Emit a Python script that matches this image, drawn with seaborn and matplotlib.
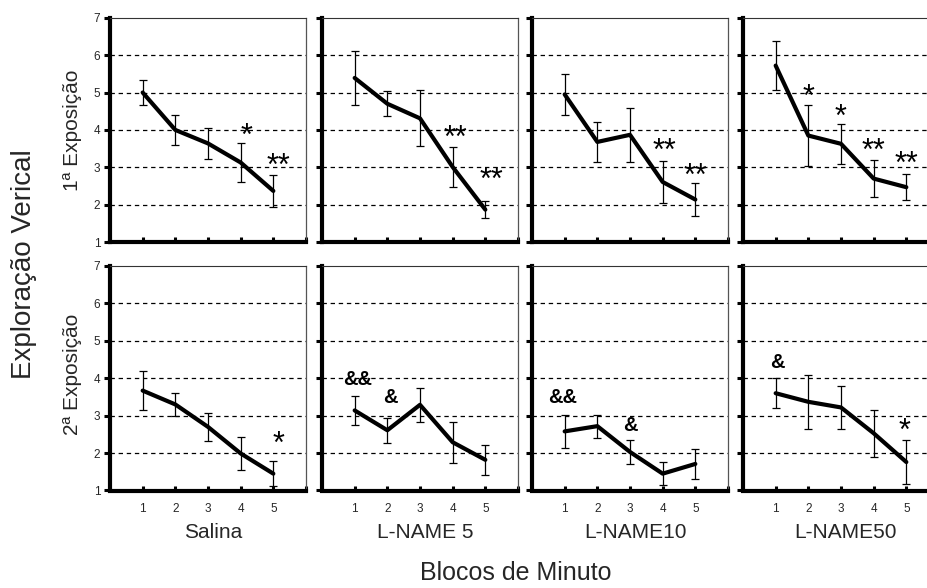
import numpy as np
import pandas as pd
import matplotlib
matplotlib.use("Agg")
import matplotlib.pyplot as plt
import seaborn as sns

# Mean vertical exploration per one-minute block, with SEM
blocks = [1, 2, 3, 4, 5]
groups = ["Salina", "L-NAME 5", "L-NAME10", "L-NAME50"]

exp1_salina = [5.00, 4.00, 3.64, 3.13, 2.37]
exp1_salina_err = [0.33, 0.40, 0.42, 0.51, 0.42]
exp1_lname5 = [5.39, 4.70, 4.31, 3.01, 1.87]
exp1_lname5_err = [0.72, 0.33, 0.75, 0.53, 0.22]
exp1_lname10 = [4.95, 3.68, 3.87, 2.61, 2.14]
exp1_lname10_err = [0.55, 0.54, 0.72, 0.55, 0.45]
exp1_lname50 = [5.72, 3.85, 3.63, 2.70, 2.47]
exp1_lname50_err = [0.65, 0.81, 0.53, 0.50, 0.35]

exp2_salina = [3.67, 3.30, 2.70, 1.99, 1.45]
exp2_salina_err = [0.52, 0.31, 0.37, 0.45, 0.33]
exp2_lname5 = [3.14, 2.61, 3.29, 2.29, 1.82]
exp2_lname5_err = [0.39, 0.33, 0.45, 0.55, 0.40]
exp2_lname10 = [2.58, 2.72, 2.03, 1.45, 1.71]
exp2_lname10_err = [0.44, 0.31, 0.32, 0.31, 0.40]
exp2_lname50 = [3.60, 3.37, 3.22, 2.53, 1.76]
exp2_lname50_err = [0.40, 0.73, 0.58, 0.63, 0.59]

# Significance marks: (block position, height of symbol centre, symbol)
marks_exp1 = [
    [(4.18, 4.07, "*"), (5.15, 3.27, "**")],
    [(4.1, 4.01, "**"), (5.18, 2.90, "**")],
    [(4.05, 3.66, "**"), (5.0, 3.00, "**")],
    [(2.0, 5.12, "*"), (3.0, 4.59, "*"), (4.0, 3.68, "**"), (5.0, 3.32, "**")],
]
marks_exp2 = [
    [(5.15, 2.47, "*")],
    [(1.1, 4.00, "&&"), (2.1, 3.52, "&")],
    [(0.95, 3.52, "&&"), (3.0, 2.78, "&")],
    [(1.05, 4.48, "&"), (4.95, 2.83, "*")],
]

rows = [
    ("1ª Exposição",
     [exp1_salina, exp1_lname5, exp1_lname10, exp1_lname50],
     [exp1_salina_err, exp1_lname5_err, exp1_lname10_err, exp1_lname50_err],
     marks_exp1),
    ("2ª Exposição",
     [exp2_salina, exp2_lname5, exp2_lname10, exp2_lname50],
     [exp2_salina_err, exp2_lname5_err, exp2_lname10_err, exp2_lname50_err],
     marks_exp2),
]

sns.set_theme(style="white")
plt.rcParams["font.family"] = ["Liberation Sans", "DejaVu Sans"]

W, H = 928, 588
fig = plt.figure(figsize=(W / 100, H / 100), dpi=100)

lefts = [110, 322, 532, 743]
panel_w = 196
row_tops = [17.7, 266]
panel_h = 224.5
row_label_y = [130, 374]


def px_axes(left, top, w, h):
    return fig.add_axes([left / W, 1 - (top + h) / H, w / W, h / H])


STAR_PT = 22
AMP_PT = 14.5

for r, (row_label, means, errs, marks) in enumerate(rows):
    for c, grp in enumerate(groups):
        ax = px_axes(lefts[c], row_tops[r], panel_w, panel_h)
        df = pd.DataFrame({"bloco": blocks, "media": means[c], "epm": errs[c]})

        # dashed reference lines
        for yv in [2, 3, 4, 5, 6]:
            ax.axhline(yv, color="black", lw=0.9, ls=(0, (3.5, 3.0)), zorder=1)

        ax.errorbar(df["bloco"], df["media"], yerr=df["epm"], fmt="none",
                    ecolor="black", elinewidth=0.9, capsize=3.2, capthick=0.9,
                    zorder=2)
        sns.lineplot(data=df, x="bloco", y="media", ax=ax, color="black",
                     lw=3.0, zorder=3, legend=False)

        for (bx, by, sym) in marks[c]:
            if "*" in sym:
                ax.annotate(sym, xy=(bx, by), xytext=(0, -0.575 * STAR_PT),
                            textcoords="offset points", ha="center",
                            va="baseline", fontsize=STAR_PT, color="black",
                            annotation_clip=False)
            else:
                ax.annotate(sym, xy=(bx, by), xytext=(0, -0.36 * AMP_PT),
                            textcoords="offset points", ha="center",
                            va="baseline", fontsize=AMP_PT, fontweight="bold",
                            color="black", annotation_clip=False)

        ax.set_xlim(0, 6)
        ax.set_ylim(1, 7)
        ax.set_xlabel("")
        ax.set_ylabel("")
        ax.set_facecolor("white")

        ax.set_yticks([1, 2, 3, 4, 5, 6, 7])
        ax.set_xticks([1, 2, 3, 4, 5, 6])
        ax.tick_params(axis="y", direction="out", length=4, width=2.2,
                       color="black", labelsize=8.5, pad=3, left=True)
        ax.tick_params(axis="x", direction="in", length=3.5, width=2.2,
                       color="black", labelsize=8.5, pad=9, bottom=True)
        if r == 1:
            ax.set_xticklabels(["1", "2", "3", "4", "5", ""])
            fig.text((lefts[c] + 103) / W, 1 - 532 / H, grp,
                     ha="center", va="center", fontsize=15)
        else:
            ax.set_xticklabels([])
        if c == 0:
            ax.set_yticklabels([str(v) for v in range(1, 8)])
            fig.text(72 / W, 1 - row_label_y[r] / H, row_label, rotation=90,
                     ha="center", va="center", fontsize=15)
        else:
            ax.set_yticklabels([])

        for side in ["left", "bottom"]:
            ax.spines[side].set_visible(True)
            ax.spines[side].set_linewidth(3.0)
            ax.spines[side].set_color("black")
        ax.spines["top"].set_visible(True)
        ax.spines["top"].set_linewidth(0.8)
        ax.spines["top"].set_color("#333333")
        ax.spines["right"].set_visible(True)
        ax.spines["right"].set_linewidth(0.9)
        ax.spines["right"].set_color("#555555")
        ax.grid(False)

fig.text(24 / W, 1 - 264 / H, "Exploração Verical", rotation=90,
         ha="center", va="center", fontsize=20)
fig.text(516 / W, 1 - 573 / H, "Blocos de Minuto", ha="center",
         va="center", fontsize=18)

fig.savefig("out.png", dpi=100, facecolor="white")
